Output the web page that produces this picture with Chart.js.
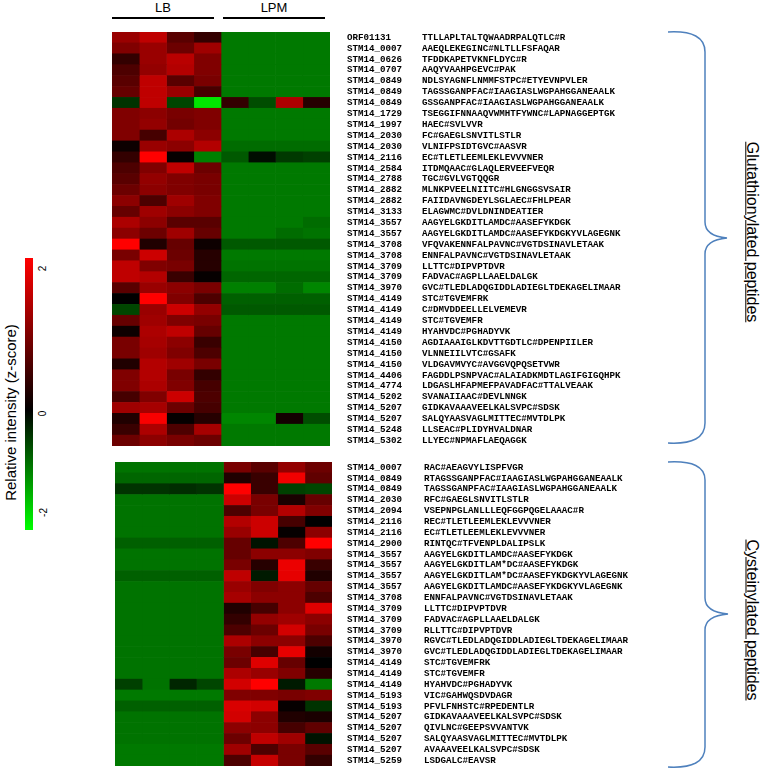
<!DOCTYPE html>
<html>
<head>
<meta charset="utf-8">
<script src="https://cdn.jsdelivr.net/npm/chart.js@4/dist/chart.umd.min.js"></script>
<style>
  body { margin:0; background:#fff; width:765px; height:771px; position:relative; overflow:hidden; font-family:"Liberation Sans", Arial, sans-serif; }
  canvas { position:absolute; }
  .grp { position:absolute; top:0; font-size:13px; color:#000; text-align:center; }
  .grpline { position:absolute; top:17px; height:2px; background:#000; }
  .rot { position:absolute; white-space:nowrap; transform-origin:center center; }
  #cbar { position:absolute; left:25px; top:258px; width:8px; height:272px;
          background:linear-gradient(to bottom, rgb(255,0,0) 0%, rgb(0,0,0) 56%, rgb(0,255,0) 100%); }
</style>
</head>
<body>

<div class="grp" style="left:113px;width:100px;">LB</div>
<div class="grp" style="left:224px;width:100px;">LPM</div>
<div class="grpline" style="left:112px;width:102px;"></div>
<div class="grpline" style="left:223px;width:102px;"></div>

<div id="cbar"></div>
<div id="cbarTicks"></div>
<div class="rot" id="cbarTitle" style="font-size:15px;">Relative intensity (z-score)</div>

<svg width="765" height="771" style="position:absolute;left:0;top:0;" fill="none" stroke="#4F81BD" stroke-width="1.5">
  <path d="M668,32 Q705,30 705,52 L705,222 Q705,236 727,238 Q705,240 705,254 L705,423 Q705,445 668,443"/>
  <path d="M668,462 Q705,460 705,480 L705,598 Q705,612 728,614 Q705,616 705,630 L705,747 Q705,769 668,767"/>
</svg>
<div class="rot" id="gshTitle" style="font-size:16px;text-decoration:underline;">Glutathionylated peptides</div>
<div class="rot" id="cysTitle" style="font-size:16px;text-decoration:underline;">Cysteinylated peptides</div>

<canvas id="gsh" width="520" height="414" style="left:112px;top:32px;"></canvas>
<canvas id="cys" width="520" height="304" style="left:115px;top:462px;"></canvas>

<script>
const columns = ["LB 1", "LB 2", "LB 3", "LB 4", "LPM 1", "LPM 2", "LPM 3", "LPM 4"];
const colorbarTicks = [2, 0, -2];

// glutathionylated peptides
const gshIds = ["ORF01131", "STM14_0007", "STM14_0626", "STM14_0707", "STM14_0849", "STM14_0849", "STM14_0849",
  "STM14_1729", "STM14_1997", "STM14_2030", "STM14_2030", "STM14_2116", "STM14_2584", "STM14_2788",
  "STM14_2882", "STM14_2882", "STM14_3133", "STM14_3557", "STM14_3557", "STM14_3708", "STM14_3708",
  "STM14_3709", "STM14_3709", "STM14_3970", "STM14_4149", "STM14_4149", "STM14_4149", "STM14_4149",
  "STM14_4150", "STM14_4150", "STM14_4150", "STM14_4406", "STM14_4774", "STM14_5202", "STM14_5207",
  "STM14_5207", "STM14_5248", "STM14_5302"];
const gshPeptides = ["TTLLAPLTALTQWAADRPALQTLC#R", "AAEQLEKEGINC#NLTLLFSFAQAR", "TFDDKAPETVKNFLDYC#R",
  "AAQYVAAHPGEVC#PAK", "NDLSYAGNFLNMMFSTPC#ETYEVNPVLER", "TAGSSGANPFAC#IAAGIASLWGPAHGGANEAALK",
  "GSSGANPFAC#IAAGIASLWGPAHGGANEAALK", "TSEGGIFNNAAQVWMHTFYWNC#LAPNAGGEPTGK", "HAEC#SVLVVR",
  "FC#GAEGLSNVITLSTLR", "VLNIFPSIDTGVC#AASVR", "EC#TLETLEEMLEKLEVVVNER", "ITDMQAAC#GLAQLERVEEFVEQR",
  "TGC#GVLVGTQQGR", "MLNKPVEELNIITC#HLGNGGSVSAIR", "FAIIDAVNGDEYLSGLAEC#FHLPEAR", "ELAGWMC#DVLDNINDEATIER",
  "AAGYELGKDITLAMDC#AASEFYKDGK", "AAGYELGKDITLAMDC#AASEFYKDGKYVLAGEGNK", "VFQVAKENNFALPAVNC#VGTDSINAVLETAAK",
  "ENNFALPAVNC#VGTDSINAVLETAAK", "LLTTC#DIPVPTDVR", "FADVAC#AGPLLAAELDALGK",
  "GVC#TLEDLADQGIDDLADIEGLTDEKAGELIMAAR", "STC#TGVEMFRK", "C#DMVDDEELLELVEMEVR", "STC#TGVEMFR",
  "HYAHVDC#PGHADYVK", "AGDIAAAIGLKDVTTGDTLC#DPENPIILER", "VLNNEIILVTC#GSAFK", "VLDGAVMVYC#AVGGVQPQSETVWR",
  "FAGDDLPSNPVAC#ALAIADKMDTLAGIFGIGQHPK", "LDGASLHFAPMEFPAVADFAC#TTALVEAAK", "SVANAIIAAC#DEVLNNGK",
  "GIDKAVAAAVEELKALSVPC#SDSK", "SALQYAASVAGLMITTEC#MVTDLPK", "LLSEAC#PLIDYHVALDNAR", "LLYEC#NPMAFLAEQAGGK"];
const gshZ = [
  [1.2, 1.5, 0.7, 0.4, -0.95, -0.95, -0.95, -0.95],
  [1.0, 1.2, 0.85, 1.25, -0.95, -0.95, -0.95, -0.95],
  [0.4, 1.2, 1.45, 1.0, -0.95, -0.95, -0.95, -0.95],
  [0.6, 1.15, 1.4, 1.0, -0.95, -0.95, -0.95, -0.95],
  [0.7, 1.5, 0.7, 0.95, -0.95, -0.95, -0.95, -0.95],
  [0.8, 1.5, 1.2, 0.55, -0.95, -0.95, -0.95, -0.95],
  [-0.4, 1.5, -0.55, -1.8, 0.4, -0.6, 1.35, 0.3],
  [1.0, 1.1, 0.95, 1.0, -0.95, -0.95, -0.95, -0.95],
  [1.0, 1.15, 0.9, 1.0, -0.95, -0.95, -0.95, -0.95],
  [1.0, 0.55, 1.35, 1.1, -0.95, -0.95, -0.95, -0.95],
  [0.1, 1.2, 1.1, 1.4, -0.85, -0.85, -0.85, -0.85],
  [0.4, 2.0, 0.05, -1.0, -0.7, -0.1, -0.45, -0.5],
  [0.6, 1.0, 1.5, 0.85, -0.95, -0.95, -0.95, -0.95],
  [0.7, 1.15, 1.0, 0.95, -0.95, -0.95, -0.95, -0.95],
  [0.85, 1.1, 1.0, 0.95, -0.95, -0.95, -0.95, -0.95],
  [1.1, 0.6, 1.25, 1.0, -0.95, -0.95, -0.95, -0.95],
  [0.8, 1.25, 1.1, 1.0, -0.95, -0.95, -0.95, -0.95],
  [1.35, 1.1, 0.7, 0.7, -0.95, -0.95, -0.95, -0.85],
  [1.1, 0.85, 1.25, 0.8, -0.95, -0.95, -0.85, -0.9],
  [2.0, 0.25, 0.8, 0.1, -0.7, -0.7, -0.7, -0.7],
  [0.95, 1.6, 0.85, 0.3, -0.95, -0.95, -0.95, -0.95],
  [1.5, 1.0, 0.95, 0.3, -0.9, -0.9, -0.9, -0.9],
  [1.5, 1.4, 0.45, 0.05, -0.8, -0.8, -0.8, -0.8],
  [0.7, 1.2, 1.1, 0.95, -1.0, -1.0, -0.85, -1.05],
  [0.0, 2.0, 1.0, 0.6, -0.75, -0.75, -0.75, -0.75],
  [-0.55, 1.2, 1.6, 1.15, -0.7, -0.7, -0.7, -0.7],
  [0.8, 1.25, 1.0, 0.95, -0.95, -0.95, -0.95, -0.95],
  [0.1, 1.35, 1.5, 0.8, -0.95, -0.95, -0.95, -0.95],
  [0.95, 1.3, 1.1, 0.45, -0.95, -0.95, -0.95, -0.95],
  [0.95, 1.25, 1.0, 0.6, -0.95, -0.95, -0.95, -0.95],
  [0.25, 1.4, 1.25, 0.95, -0.95, -0.95, -0.95, -0.95],
  [1.0, 1.4, 0.95, 0.4, -0.95, -0.95, -0.95, -0.95],
  [1.0, 1.35, 1.0, 0.55, -0.95, -0.95, -0.95, -0.95],
  [0.55, 1.0, 1.6, 0.6, -0.95, -0.95, -0.95, -0.95],
  [1.25, 1.3, 0.85, 0.55, -0.95, -0.95, -0.95, -0.95],
  [0.25, 1.95, 0.05, 0.3, -1.05, -1.05, 0.15, -0.6],
  [0.45, 1.35, 0.6, 1.3, -0.95, -0.95, -0.95, -0.95],
  [0.85, 1.1, 0.95, 0.85, -0.95, -0.95, -0.95, -0.95]
];

// cysteinylated peptides
const cysIds = ["STM14_0007", "STM14_0849", "STM14_0849", "STM14_2030", "STM14_2094", "STM14_2116", "STM14_2116",
  "STM14_2900", "STM14_3557", "STM14_3557", "STM14_3557", "STM14_3557", "STM14_3708", "STM14_3709",
  "STM14_3709", "STM14_3709", "STM14_3970", "STM14_3970", "STM14_4149", "STM14_4149", "STM14_4149",
  "STM14_5193", "STM14_5193", "STM14_5207", "STM14_5207", "STM14_5207", "STM14_5207", "STM14_5259"];
const cysPeptides = ["RAC#AEAGVYLISPFVGR", "RTAGSSGANPFAC#IAAGIASLWGPAHGGANEAALK", "TAGSSGANPFAC#IAAGIASLWGPAHGGANEAALK",
  "RFC#GAEGLSNVITLSTLR", "VSEPNPGLANLLLEQFGGPQGELAAAC#R", "REC#TLETLEEMLEKLEVVVNER", "EC#TLETLEEMLEKLEVVVNER",
  "RINTQC#TFVENPLDALIPSLK", "AAGYELGKDITLAMDC#AASEFYKDGK", "AAGYELGKDITLAM*DC#AASEFYKDGK",
  "AAGYELGKDITLAM*DC#AASEFYKDGKYVLAGEGNK", "AAGYELGKDITLAMDC#AASEFYKDGKYVLAGEGNK", "ENNFALPAVNC#VGTDSINAVLETAAK",
  "LLTTC#DIPVPTDVR", "FADVAC#AGPLLAAELDALGK", "RLLTTC#DIPVPTDVR", "RGVC#TLEDLADQGIDDLADIEGLTDEKAGELIMAAR",
  "GVC#TLEDLADQGIDDLADIEGLTDEKAGELIMAAR", "STC#TGVEMFRK", "STC#TGVEMFR", "HYAHVDC#PGHADYVK",
  "VIC#GAHWQSDVDAGR", "PFVLFNHSTC#RPEDENTLR", "GIDKAVAAAVEELKALSVPC#SDSK", "QIVLNC#GEEPSVVANTVK",
  "SALQYAASVAGLMITTEC#MVTDLPK", "AVAAAVEELKALSVPC#SDSK", "LSDGALC#EAVSR"];
const cysZ = [
  [-0.9, -0.9, -0.9, -0.9, 0.95, 0.7, 1.15, 0.85],
  [-0.8, -0.8, -0.8, -0.8, 0.25, 0.45, 1.9, 0.75],
  [-0.4, -0.4, -0.35, -0.4, 2.0, 0.45, -0.5, -0.55],
  [-0.9, -0.9, -0.9, -0.9, 1.6, 0.95, 0.2, 0.8],
  [-0.9, -0.9, -0.9, -0.9, 0.6, 0.95, 1.4, 1.0],
  [-0.9, -0.9, -0.9, -0.9, 1.4, 1.6, 0.55, 0.0],
  [-0.9, -0.9, -0.9, -0.9, 1.2, 1.6, 0.05, 1.1],
  [-0.75, -0.75, -0.75, -0.75, 0.8, -0.15, 0.6, 2.0],
  [-0.9, -0.9, -0.9, -0.9, 0.8, 1.1, 1.1, 1.0],
  [-0.9, -0.9, -0.9, -0.9, 0.95, 0.3, 1.85, 0.45],
  [-0.75, -0.75, -0.75, -0.75, 1.5, -0.2, 1.8, 0.25],
  [-0.9, -0.9, -0.9, -0.9, 1.2, 1.0, 1.1, 0.8],
  [-0.9, -0.9, -0.9, -0.9, 1.3, 1.1, 1.1, 0.6],
  [-0.9, -0.9, -0.9, -0.9, 0.25, 0.55, 1.1, 1.75],
  [-0.9, -0.9, -0.9, -0.9, 0.4, 1.15, 1.25, 1.1],
  [-0.9, -0.9, -0.9, -0.9, 0.6, 0.85, 1.65, 0.95],
  [-0.9, -0.9, -0.9, -0.9, 1.35, 1.1, 1.1, 0.6],
  [-0.9, -0.9, -0.9, -0.9, 0.95, 0.55, 1.8, 0.15],
  [-0.9, -0.9, -0.9, -0.9, 0.85, 1.75, 0.8, 0.0],
  [-0.9, -0.9, -0.9, -0.9, 1.35, 1.2, 1.0, 0.3],
  [-0.5, -0.9, -0.3, -0.55, 1.65, 2.0, -0.2, -0.95],
  [-0.95, -0.95, -0.95, -0.95, 1.0, 1.0, 0.95, 1.0],
  [-0.75, -0.75, -0.75, -0.75, 1.7, 1.65, 0.05, -0.4],
  [-0.9, -0.9, -0.9, -0.9, 1.65, 1.1, 0.25, 0.2],
  [-0.9, -0.9, -0.9, -0.9, 1.1, 1.1, 0.55, 0.75],
  [-0.9, -0.9, -0.9, -0.9, 0.85, 1.5, 1.25, -0.15],
  [-0.95, -0.95, -0.95, -0.95, 1.25, 0.6, 0.95, 0.7],
  [-0.95, -0.95, -0.95, -0.95, 0.6, 1.55, 0.95, 0.4]
];

function zColor(z) {
    const t = Math.max(-1, Math.min(1, z / 2));
    if (t >= 0) return `rgb(${Math.round(255 * t)},0,0)`;
    return `rgb(0,${Math.round(-255 * t)},0)`;
}

const labelFont = { family: "'Liberation Mono', 'DejaVu Sans Mono', monospace", size: 9.2, weight: 'bold' };

function drawHeatmap(canvasId, ids, peptides, zRows, areaWidth, idPadding) {
    const datasets = columns.map((col, c) => ({
        label: col,
        data: zRows.map(() => 1),
        backgroundColor: zRows.map(r => zColor(r[c])),
        borderWidth: 0,
        barPercentage: 1,
        categoryPercentage: 1
    }));
    const canvas = document.getElementById(canvasId);
    const seqWidth = canvas.width - areaWidth - 92;

    return new Chart(canvas, {
        type: 'bar',
        data: { labels: ids, datasets: datasets },
        options: {
            indexAxis: 'y',
            responsive: false,
            animation: false,
            events: [],
            layout: { padding: 0 },
            plugins: { legend: { display: false }, tooltip: { enabled: false } },
            scales: {
                x: { display: false, stacked: true, min: 0, max: columns.length },
                y: {
                    position: 'right', stacked: true, weight: 0,
                    grid: { display: false, drawTicks: false },
                    border: { display: false },
                    ticks: { autoSkip: false, padding: idPadding, color: '#000', font: labelFont },
                    afterFit: s => { s.width = 92; s.paddingTop = 0; s.paddingBottom = 0; }
                },
                y2: {
                    type: 'category', labels: peptides, position: 'right', offset: true, weight: 1,
                    grid: { display: false, drawTicks: false },
                    border: { display: false },
                    ticks: { autoSkip: false, padding: 0, color: '#000', font: labelFont },
                    afterFit: s => { s.width = seqWidth; s.paddingTop = 0; s.paddingBottom = 0; }
                }
            }
        }
    });
}

drawHeatmap("gsh", gshIds, gshPeptides, gshZ, 218, 17);
drawHeatmap("cys", cysIds, cysPeptides, cysZ, 217, 15);

function placeRotated(el, cx, cy, deg) {
    const w = el.offsetWidth, h = el.offsetHeight;
    el.style.left = (cx - w / 2) + "px";
    el.style.top = (cy - h / 2) + "px";
    el.style.transform = `rotate(${deg}deg)`;
}

// colour key ticks, rotated like the key title
const tickPos = { "2": 268, "0": 413, "-2": 512 };
const tickBox = document.getElementById("cbarTicks");
colorbarTicks.forEach(t => {
    const d = document.createElement("div");
    d.className = "rot";
    d.style.fontSize = "10px";
    d.textContent = t;
    tickBox.appendChild(d);
    placeRotated(d, 43, tickPos[String(t)], -90);
});

placeRotated(document.getElementById("cbarTitle"), 10, 412, -90);
placeRotated(document.getElementById("gshTitle"), 752, 232, 90);
placeRotated(document.getElementById("cysTitle"), 752, 620, 90);
</script>
</body>
</html>
